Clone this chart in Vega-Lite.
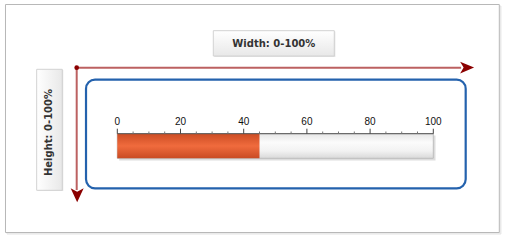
{
  "$schema": "https://vega.github.io/schema/vega-lite/v6.json",
  "width": 505,
  "height": 241,
  "padding": 0,
  "autosize": {"type": "fit", "contains": "padding"},
  "background": "white",
  "config": {"view": {"stroke": null}},
  "encoding": {
    "x": {"field": "x", "type": "quantitative", "axis": null, "scale": {"domain": [-37.12, 122.69], "zero": false, "nice": false}},
    "y": {"field": "y", "type": "quantitative", "axis": null, "scale": {"domain": [0, 241], "reverse": true, "zero": false, "nice": false}}
  },
  "layer": [
    {
      "data": {"values": [{"x": -34.9, "x2": 121.4, "y": 6, "y2": 234}]},
      "mark": {"type": "rect", "fill": "#f0f0f0", "stroke": "#e4e4e4", "strokeWidth": 1},
      "encoding": {"x2": {"field": "x2"}, "y2": {"field": "y2"}}
    },
    {
      "data": {"values": [{"x": -35.38, "x2": 120.89, "y": 4.5, "y2": 232.5}]},
      "mark": {"type": "rect", "fill": "white", "stroke": "#b8b8b8", "strokeWidth": 1},
      "encoding": {"x2": {"field": "x2"}, "y2": {"field": "y2"}}
    },
    {
      "data": {"values": [{"x": 30.7, "x2": 69.0, "y": 31.5, "y2": 57}]},
      "mark": {"type": "rect", "fill": "#e2e2e2"},
      "encoding": {"x2": {"field": "x2"}, "y2": {"field": "y2"}}
    },
    {
      "data": {"values": [{"x": 30.38, "x2": 68.67, "y": 30.7, "y2": 56}]},
      "mark": {"type": "rect", "stroke": "#d2d2d2", "strokeWidth": 1,
        "fill": {"gradient": "linear", "x1": 0, "y1": 0, "x2": 0, "y2": 1, "stops": [{"offset": 0, "color": "#ffffff"}, {"offset": 1, "color": "#e8e8e8"}]}},
      "encoding": {"x2": {"field": "x2"}, "y2": {"field": "y2"}}
    },
    {
      "data": {"values": [{"x": 49.53, "y": 43.5, "label": "Width: 0-100%"}]},
      "mark": {"type": "text", "font": "DejaVu Sans", "fontSize": 10, "fontWeight": "bold", "color": "#333333", "align": "center", "baseline": "middle"},
      "encoding": {"text": {"field": "label"}}
    },
    {
      "data": {"values": [{"x": -25.2, "x2": -17.1, "y": 70, "y2": 191}]},
      "mark": {"type": "rect", "fill": "#e2e2e2"},
      "encoding": {"x2": {"field": "x2"}, "y2": {"field": "y2"}}
    },
    {
      "data": {"values": [{"x": -25.51, "x2": -17.41, "y": 69.3, "y2": 190.3}]},
      "mark": {"type": "rect", "stroke": "#d2d2d2", "strokeWidth": 1,
        "fill": {"gradient": "linear", "x1": 0, "y1": 0, "x2": 1, "y2": 0, "stops": [{"offset": 0, "color": "#ffffff"}, {"offset": 1, "color": "#e8e8e8"}]}},
      "encoding": {"x2": {"field": "x2"}, "y2": {"field": "y2"}}
    },
    {
      "data": {"values": [{"x": -21.46, "y": 132.5, "label": "Height: 0-100%"}]},
      "mark": {"type": "text", "font": "DejaVu Sans", "fontSize": 10, "fontWeight": "bold", "color": "#333333", "align": "center", "baseline": "middle", "angle": 270},
      "encoding": {"text": {"field": "label"}}
    },
    {
      "data": {"values": [{"x": -9.9, "x2": 110.25, "y": 79.7, "y2": 188.3}]},
      "mark": {"type": "rect", "fill": null, "fillOpacity": 0, "stroke": "#2462ad", "strokeWidth": 2.2, "cornerRadius": 9},
      "encoding": {"x2": {"field": "x2"}, "y2": {"field": "y2"}}
    },
    {
      "data": {"values": [{"x": 0.6, "x2": 100.7, "y": 135.5, "y2": 160.5}]},
      "mark": {"type": "rect", "fill": "#cfcfcf", "opacity": 0.7},
      "encoding": {"x2": {"field": "x2"}, "y2": {"field": "y2"}}
    },
    {
      "data": {"values": [{"x": 0, "x2": 100, "y": 133.7, "y2": 158.3}]},
      "mark": {"type": "rect", "stroke": "#bdbdbd", "strokeWidth": 1,
        "fill": {"gradient": "linear", "x1": 0, "y1": 0, "x2": 0, "y2": 1, "stops": [{"offset": 0, "color": "#e6e6e6"}, {"offset": 0.35, "color": "#fbfbfb"}, {"offset": 0.7, "color": "#f2f2f2"}, {"offset": 1, "color": "#d9d9d9"}]}},
      "encoding": {"x2": {"field": "x2"}, "y2": {"field": "y2"}}
    },
    {
      "data": {"values": [{"x": 0, "x2": 45, "y": 133.7, "y2": 158.3}]},
      "mark": {"type": "rect",
        "fill": {"gradient": "linear", "x1": 0, "y1": 0, "x2": 0, "y2": 1, "stops": [{"offset": 0, "color": "#cc4d24"}, {"offset": 0.5, "color": "#f06b3d"}, {"offset": 1, "color": "#c94b23"}]}},
      "encoding": {"x2": {"field": "x2"}, "y2": {"field": "y2"}}
    },
    {
      "data": {"values": [{"x": 0, "x2": 100, "y": 133.7}]},
      "mark": {"type": "rule", "color": "#555555", "strokeWidth": 1},
      "encoding": {"x2": {"field": "x2"}}
    },
    {
      "data": {"values": [
        {"x": 5, "y": 131.5, "y2": 133.7}, {"x": 10, "y": 131.5, "y2": 133.7}, {"x": 15, "y": 131.5, "y2": 133.7},
        {"x": 25, "y": 131.5, "y2": 133.7}, {"x": 30, "y": 131.5, "y2": 133.7}, {"x": 35, "y": 131.5, "y2": 133.7},
        {"x": 45, "y": 131.5, "y2": 133.7}, {"x": 50, "y": 131.5, "y2": 133.7}, {"x": 55, "y": 131.5, "y2": 133.7},
        {"x": 65, "y": 131.5, "y2": 133.7}, {"x": 70, "y": 131.5, "y2": 133.7}, {"x": 75, "y": 131.5, "y2": 133.7},
        {"x": 85, "y": 131.5, "y2": 133.7}, {"x": 90, "y": 131.5, "y2": 133.7}, {"x": 95, "y": 131.5, "y2": 133.7}
      ]},
      "mark": {"type": "rule", "color": "#777777", "strokeWidth": 1},
      "encoding": {"y2": {"field": "y2"}}
    },
    {
      "data": {"values": [
        {"x": 0, "y": 128.7, "y2": 133.7}, {"x": 20, "y": 128.7, "y2": 133.7}, {"x": 40, "y": 128.7, "y2": 133.7},
        {"x": 60, "y": 128.7, "y2": 133.7}, {"x": 80, "y": 128.7, "y2": 133.7}, {"x": 100, "y": 128.7, "y2": 133.7}
      ]},
      "mark": {"type": "rule", "color": "#444444", "strokeWidth": 1},
      "encoding": {"y2": {"field": "y2"}}
    },
    {
      "data": {"values": [
        {"x": 0, "y": 125, "label": "0"}, {"x": 20, "y": 125, "label": "20"}, {"x": 40, "y": 125, "label": "40"},
        {"x": 60, "y": 125, "label": "60"}, {"x": 80, "y": 125, "label": "80"}, {"x": 100, "y": 125, "label": "100"}
      ]},
      "mark": {"type": "text", "font": "Liberation Sans", "fontSize": 10, "color": "#111111", "align": "center", "baseline": "alphabetic"},
      "encoding": {"text": {"field": "label"}}
    },
    {
      "data": {"values": [{"x": -12.85, "x2": 108.8, "y": 67.7}]},
      "mark": {"type": "rule", "color": "#b04545", "strokeWidth": 2, "opacity": 0.85},
      "encoding": {"x2": {"field": "x2"}}
    },
    {
      "data": {"values": [{"x": -12.85, "y": 67.7, "y2": 190}]},
      "mark": {"type": "rule", "color": "#b04545", "strokeWidth": 2, "opacity": 0.85},
      "encoding": {"y2": {"field": "y2"}}
    },
    {
      "data": {"values": [{"x": 110.7, "y": 67.6}]},
      "mark": {"type": "point", "filled": true, "color": "#8b0000", "opacity": 1, "size": 196, "shape": "M1,0 L-1,-0.85 L-0.5,0 L-1,0.85 Z"},
      "encoding": {}
    },
    {
      "data": {"values": [{"x": -12.7, "y": 195.3}]},
      "mark": {"type": "point", "filled": true, "color": "#8b0000", "opacity": 1, "size": 196, "shape": "M0,1 L-0.93,-1 L0,-0.5 L0.93,-1 Z"},
      "encoding": {}
    },
    {
      "data": {"values": [{"x": -12.85, "y": 67.7}]},
      "mark": {"type": "point", "filled": true, "color": "#8b0000", "opacity": 1, "size": 22, "shape": "circle"},
      "encoding": {}
    }
  ]
}
